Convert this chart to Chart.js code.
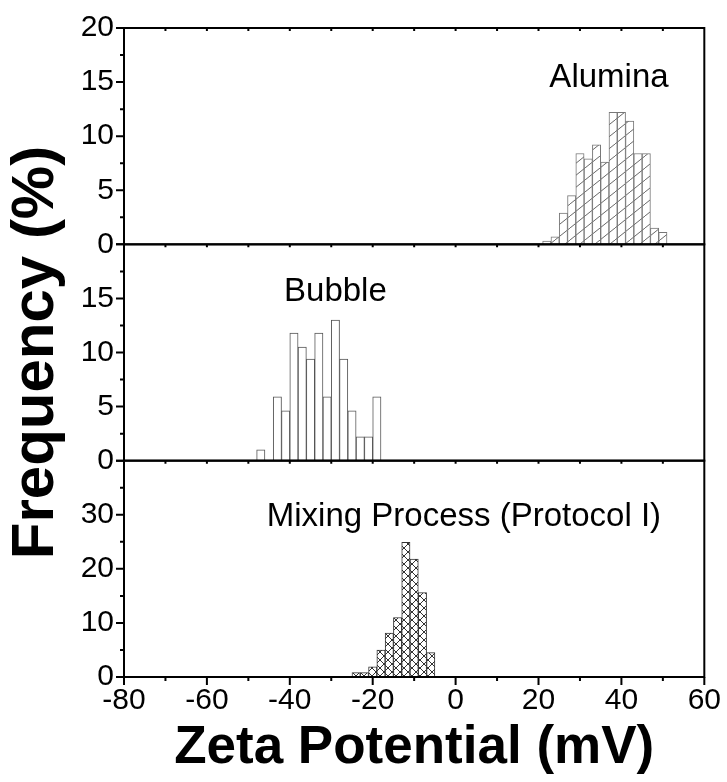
<!DOCTYPE html>
<html>
<head>
<meta charset="utf-8">
<script src="https://cdn.jsdelivr.net/npm/chart.js@4.4.1/dist/chart.umd.min.js"></script>
<style>
  body { margin: 0; background: #fff; }
</style>
</head>
<body>
<canvas id="zetaChart" width="727" height="782"></canvas>
<script>
// bin centres (mV) and frequencies (%)
const aluminaZeta = [22, 24, 26, 28, 30, 32, 34, 36, 38, 40, 42, 44, 46, 48, 50];
const aluminaFreq = [0.3, 0.7, 2.9, 4.5, 8.4, 7.9, 9.2, 7.6, 12.2, 12.2, 11.4, 8.4, 8.4, 1.5, 1.1];

const bubbleZeta = [-47, -45, -43, -41, -39, -37, -35, -33, -31, -29, -27, -25, -23, -21, -19];
const bubbleFreq = [1.0, 0, 5.9, 4.6, 11.8, 10.5, 9.4, 11.8, 5.9, 13.0, 9.4, 4.6, 2.2, 2.2, 5.9];

const mixingZeta = [-24, -22, -20, -18, -16, -14, -12, -10, -8, -6];
const mixingFreq = [0.8, 0.8, 1.9, 5.0, 8.1, 11.0, 24.9, 21.8, 15.6, 4.5];

const zetaRange = [-80, 60];
const panelNames = ['Alumina', 'Bubble', 'Mixing Process (Protocol I)'];
const panelMax = [20, 20, 40];
const panelStep = [5, 5, 10];

const canvas = document.getElementById('zetaChart');
const ctx = canvas.getContext('2d');

function makePattern(w, h, lines, color) {
    const c = document.createElement('canvas');
    c.width = w; c.height = h;
    const g = c.getContext('2d');
    g.fillStyle = '#fff';
    g.fillRect(0, 0, w, h);
    g.strokeStyle = color;
    g.lineWidth = 1;
    g.beginPath();
    lines.forEach(l => { g.moveTo(l[0], l[1]); g.lineTo(l[2], l[3]); });
    g.stroke();
    return ctx.createPattern(c, 'repeat');
}
// "/" hatch for alumina, "X" hatch for the mixture
const slashHatch = makePattern(15, 12, [[-15, 24, 30, -12]], '#666');
const crossHatch = makePattern(8, 8, [[-8, -8, 16, 16], [-8, 16, 16, -8]], '#333');

const toPoints = (xs, ys) => xs.map((x, i) => ({x: x, y: ys[i]}));

const tickFont = {family: 'Liberation Sans, Arial, sans-serif', size: 30};

function yAxis(i, weight) {
    return {
        type: 'linear',
        position: 'left',
        stack: 'freq',
        weight: weight,
        min: 0,
        max: panelMax[i],
        ticks: {
            stepSize: panelStep[i],
            autoSkip: false,
            font: tickFont,
            color: '#000',
            padding: 10,
            callback: v => (i > 0 && v === panelMax[i]) ? '' : v
        },
        grid: {display: false, drawTicks: false},
        border: {display: false},
        title: {
            display: i === 1,
            text: 'Frequency (%)',
            font: {family: 'Liberation Sans, Arial, sans-serif', size: 60, weight: 'bold'},
            color: '#000',
            padding: {top: 0, bottom: 0}
        },
        afterFit: s => { s.width = 124; }
    };
}

const panelPlugin = {
    id: 'panelPlugin',
    afterDraw(chart) {
        const {ctx, chartArea, scales} = chart;
        const xs = scales.x;
        const ids = ['y1', 'y2', 'y3'];
        ctx.save();
        ctx.strokeStyle = '#000';
        ctx.lineWidth = 2;
        ids.forEach((id, i) => {
            const ys = scales[id];
            ctx.strokeRect(chartArea.left, ys.top, chartArea.right - chartArea.left, ys.bottom - ys.top);
            ctx.beginPath();
            const half = panelStep[i] / 2;
            for (let k = 0; k * half <= panelMax[i]; k++) {
                const py = ys.getPixelForValue(k * half);
                const len = k % 2 === 0 ? 8 : 4;
                ctx.moveTo(chartArea.left - len, py);
                ctx.lineTo(chartArea.left, py);
            }
            for (let v = zetaRange[0] + 10; v < zetaRange[1]; v += 10) {
                const px = xs.getPixelForValue(v);
                ctx.moveTo(px, ys.top);
                ctx.lineTo(px, ys.top + 3);
            }
            ctx.stroke();
        });
        ctx.beginPath();
        for (let v = zetaRange[0]; v <= zetaRange[1]; v += 10) {
            const px = xs.getPixelForValue(v);
            const len = v % 20 === 0 ? 8 : 4;
            ctx.moveTo(px, chartArea.bottom);
            ctx.lineTo(px, chartArea.bottom + len);
        }
        ctx.stroke();

        // panel captions
        ctx.fillStyle = '#000';
        ctx.font = '33px Liberation Sans, Arial, sans-serif';
        ctx.textAlign = 'center';
        ctx.textBaseline = 'middle';
        const capPos = [[37, 15.4], [-29, 15.6], [2, 29.6]];
        ids.forEach((id, i) => {
            ctx.fillText(panelNames[i], xs.getPixelForValue(capPos[i][0]), scales[id].getPixelForValue(capPos[i][1]));
        });
        ctx.restore();
    }
};

new Chart(ctx, {
    type: 'bar',
    data: {
        datasets: [
            {
                label: panelNames[0],
                data: toPoints(aluminaZeta, aluminaFreq),
                yAxisID: 'y1',
                xAxisID: 'x',
                backgroundColor: slashHatch,
                borderColor: '#777',
                borderWidth: 1
            },
            {
                label: panelNames[1],
                data: toPoints(bubbleZeta, bubbleFreq),
                yAxisID: 'y2',
                xAxisID: 'x2',
                backgroundColor: '#fff',
                borderColor: '#555',
                borderWidth: 1
            },
            {
                label: panelNames[2],
                data: toPoints(mixingZeta, mixingFreq),
                yAxisID: 'y3',
                xAxisID: 'x',
                backgroundColor: crossHatch,
                borderColor: '#333',
                borderWidth: 1
            }
        ]
    },
    options: {
        responsive: false,
        animation: false,
        barPercentage: 1,
        categoryPercentage: 1,
        grouped: false,
        layout: {padding: {top: 18, right: 17, bottom: 0, left: 0}},
        plugins: {
            legend: {display: false},
            tooltip: {enabled: false}
        },
        scales: {
            x: {
                type: 'linear',
                position: 'bottom',
                offset: false,
                min: zetaRange[0],
                max: zetaRange[1],
                ticks: {stepSize: 20, font: tickFont, color: '#000', padding: 6},
                grid: {display: false, drawTicks: false, offset: false},
                border: {display: false},
                title: {
                    display: true,
                    text: 'Zeta Potential (mV)',
                    font: {family: 'Liberation Sans, Arial, sans-serif', size: 53, weight: 'bold'},
                    color: '#000',
                    padding: {top: 0, bottom: 2}
                },
                afterFit: s => { s.height = 105; }
            },
            x2: {
                type: 'linear',
                position: 'bottom',
                display: false,
                offset: false,
                min: zetaRange[0],
                max: zetaRange[1]
            },
            y1: yAxis(0, 3),
            y2: yAxis(1, 2),
            y3: yAxis(2, 1)
        }
    },
    plugins: [panelPlugin]
});
</script>
</body>
</html>
